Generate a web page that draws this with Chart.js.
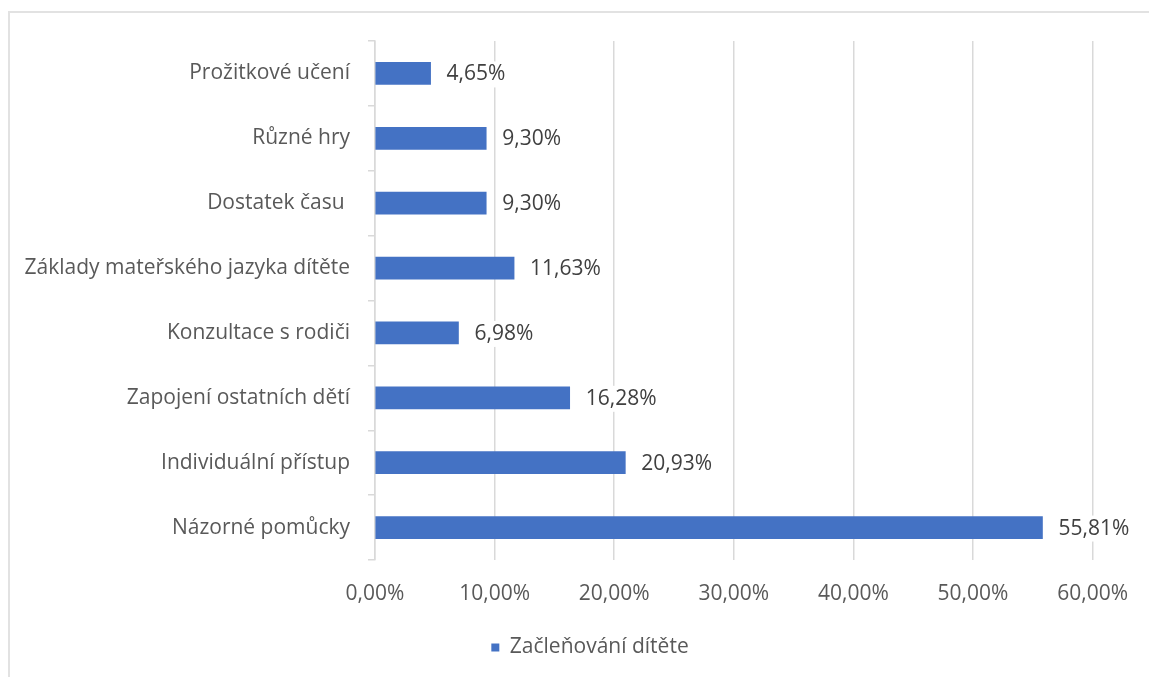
<!DOCTYPE html>
<html>
<head>
<meta charset="utf-8">
<script src="https://cdn.jsdelivr.net/npm/chart.js@4.4.1/dist/chart.umd.min.js"></script>
<style>
    html, body { margin: 0; padding: 0; background: #fff; overflow: hidden; }
    #wrap { position: relative; width: 1149px; height: 677px; }
    #frame { position: absolute; left: 8px; top: 11px; width: 1200px; height: 700px;
             border-left: 2px solid #e2e2e2; border-top: 2px solid #e2e2e2; }
    #chart { position: absolute; left: 0; top: 0; }
</style>
</head>
<body>
<div id="wrap">
    <div id="frame"></div>
    <canvas id="chart" width="1149" height="677"></canvas>
</div>
<script>
var categories = [
    "Prožitkové učení",
    "Různé hry",
    "Dostatek času ",
    "Základy mateřského jazyka dítěte",
    "Konzultace s rodiči",
    "Zapojení ostatních dětí",
    "Individuální přístup",
    "Názorné pomůcky"
];
var values = [4.65, 9.30, 9.30, 11.63, 6.98, 16.28, 20.93, 55.81];
var xTicks = [0, 10, 20, 30, 40, 50, 60];
var seriesName = "Začleňování dítěte";

var FONT = { family: "'Open Sans', 'Noto Sans', sans-serif", size: 21 };

function pct(v) {
    return v.toFixed(2).replace(".", ",") + "%";
}

// value labels right of each bar, on a white patch so gridlines don't run through
var valueLabels = {
    id: "valueLabels",
    afterDatasetsDraw: function (chart) {
        var ctx = chart.ctx;
        var meta = chart.getDatasetMeta(0);
        ctx.save();
        ctx.font = FONT.size + "px " + FONT.family;
        ctx.textAlign = "left";
        ctx.textBaseline = "middle";
        meta.data.forEach(function (bar, i) {
            var txt = pct(values[i]);
            var w = ctx.measureText(txt).width;
            var x = bar.x + 16;
            var y = bar.y + 1;
            ctx.fillStyle = "#ffffff";
            ctx.fillRect(x - 3, y - 13, w + 6, 26);
            ctx.fillStyle = "#404040";
            ctx.fillText(txt, x, y);
        });
        ctx.restore();
    }
};

// nudge the legend so it sits a bit right of the canvas centre
var legendShift = {
    id: "legendShift",
    afterLayout: function (chart) {
        if (chart.legend) chart.legend.left += 85;
    }
};

new Chart(document.getElementById("chart"), {
    type: "bar",
    data: {
        labels: categories,
        datasets: [
            {
                label: seriesName,
                data: values,
                backgroundColor: "#4472C4",
                borderWidth: 0,
                barThickness: 22
            }
        ]
    },
    options: {
        indexAxis: "y",
        responsive: false,
        animation: false,
        layout: { padding: { top: 41, right: 54, bottom: 9, left: 0 } },
        scales: {
            x: {
                min: 0,
                max: 60,
                afterFit: function (s) { s.height = 67; },
                afterBuildTicks: function (s) {
                    s.ticks = xTicks.map(function (v) { return { value: v }; });
                },
                grid: { color: "#d9d9d9", lineWidth: 1.5, drawTicks: false },
                border: { display: false },
                ticks: {
                    padding: 21,
                    color: "#595959",
                    font: FONT,
                    maxRotation: 0,
                    callback: function (v) { return pct(v); }
                }
            },
            y: {
                afterFit: function (s) { s.width = 375; },
                grid: {
                    offset: true,
                    drawOnChartArea: false,
                    drawTicks: true,
                    tickLength: 7,
                    color: "#d9d9d9",
                    lineWidth: 1.5
                },
                border: { color: "#d9d9d9", width: 1.5 },
                ticks: { padding: 18, color: "#595959", font: FONT }
            }
        },
        plugins: {
            legend: {
                position: "bottom",
                labels: { boxWidth: 8, boxHeight: 8, padding: 10, color: "#595959", font: FONT }
            },
            tooltip: { enabled: false }
        }
    },
    plugins: [valueLabels, legendShift]
});
</script>
</body>
</html>
